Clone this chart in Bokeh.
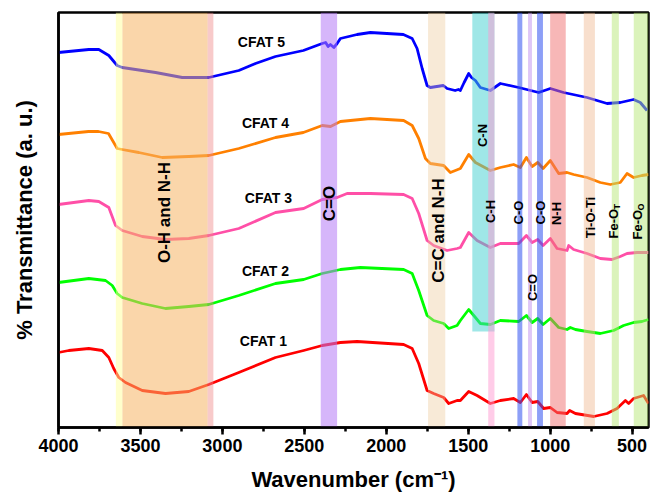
import numpy as np
from bokeh.plotting import figure
from bokeh.models import Range1d, SingleIntervalTicker, FixedTicker
from bokeh.core.properties import value
from bokeh.embed import file_html
from bokeh.resources import INLINE

# ---------------- data ----------------
wn_cfat5 = [4000, 3815, 3754, 3693, 3642, 3611, 3408, 3245, 3083, 2900, 2798, 2676, 2506, 2391, 2370, 2355,
            2341, 2320, 2300, 2280, 2178, 2097, 1896, 1842, 1812, 1781, 1751, 1731, 1652, 1629, 1580, 1560,
            1548, 1525, 1497, 1480, 1456, 1426, 1365, 1304, 1192, 1070, 999, 918, 775, 653, 572, 491, 450, 409]
t_cfat5 = [375, 378, 378, 372, 362, 360, 355, 350, 350, 357, 364, 371, 377, 384, 385, 381,
           383, 380, 384, 389, 393, 395, 393, 389, 379, 359, 342, 340, 342, 339, 337, 338,
           337, 345, 354, 350, 347, 340, 337, 344, 340, 335, 339, 335, 330, 324, 325, 328, 325, 317]

wn_cfat4 = [4000, 3817, 3756, 3695, 3663, 3642, 3611, 3510, 3367, 3205, 3083, 2900, 2676, 2506, 2391, 2340,
            2280, 2097, 1894, 1842, 1802, 1761, 1731, 1650, 1609, 1548, 1497, 1456, 1365, 1304, 1223, 1182,
            1145, 1110, 1076, 1043, 999, 948, 897, 857, 775, 694, 633, 572, 531, 491, 440, 400]
t_cfat4 = [293, 296, 296, 294, 285, 279, 278, 275, 270, 271, 272, 279, 290, 295, 302, 301,
           306, 309, 307, 302, 289, 269, 264, 262, 255, 259, 273, 265, 257, 260, 263, 260,
           270, 261, 265, 259, 267, 254, 255, 253, 250, 245, 243, 245, 254, 250, 252, 253]

wn_cfat3 = [4000, 3815, 3754, 3693, 3652, 3611, 3489, 3347, 3205, 3083, 2900, 2676, 2504, 2391, 2300, 2239,
            2097, 1894, 1842, 1802, 1751, 1711, 1629, 1568, 1548, 1497, 1446, 1365, 1304, 1192, 1145, 1110,
            1076, 1043, 999, 958, 897, 887, 857, 775, 694, 623, 572, 531, 470, 400]
t_cfat3 = [223, 227, 226, 220, 202, 197, 191, 188, 189, 192, 199, 215, 219, 228, 230, 234,
           234, 233, 229, 214, 187, 182, 177, 179, 180, 195, 187, 180, 184, 184, 192, 185,
           188, 182, 189, 179, 177, 182, 178, 174, 169, 168, 171, 174, 175, 175]

wn_cfat2 = [4000, 3815, 3713, 3672, 3642, 3611, 3489, 3347, 3205, 3083, 2900, 2676, 2504, 2391, 2280, 2158,
            1894, 1842, 1802, 1751, 1711, 1650, 1619, 1568, 1548, 1497, 1456, 1426, 1365, 1304, 1192, 1145,
            1110, 1076, 1043, 999, 948, 897, 877, 846, 775, 694, 613, 552, 491, 440, 400]
t_cfat2 = [145, 149, 147, 142, 134, 130, 124, 119, 121, 123, 132, 144, 148, 154, 158, 160,
           158, 154, 137, 112, 107, 104, 99, 102, 107, 118, 110, 104, 103, 107, 106, 112,
           105, 109, 103, 109, 100, 98, 100, 98, 96, 94, 97, 102, 105, 106, 108]

wn_cfat1 = [4000, 3937, 3815, 3733, 3693, 3663, 3632, 3591, 3489, 3347, 3205, 3083, 2900, 2676, 2504, 2391,
            2280, 2178, 1894, 1842, 1802, 1751, 1711, 1650, 1619, 1568, 1548, 1497, 1446, 1365, 1304, 1223,
            1182, 1145, 1110, 1076, 1040, 999, 958, 897, 881, 846, 734, 653, 592, 541, 521, 491, 430, 400]
t_cfat1 = [75, 77, 79, 77, 70, 59, 50, 45, 37, 34, 36, 43, 55, 70, 77, 82,
           85, 86, 83, 79, 64, 37, 34, 30, 24, 27, 27, 36, 32, 24, 27, 29,
           25, 33, 25, 26, 19, 20, 15, 14, 17, 14, 11, 14, 19, 27, 24, 29, 32, 24]

series_names = ["CFAT 1", "CFAT 2", "CFAT 3", "CFAT 4", "CFAT 5"]

# absorption bands (wavenumber ranges)
band_lo = [3610, 3090, 3055, 2300, 1640, 1340, 1340, 1170, 1111, 1044, 905, 727, 581, 400]
band_hi = [3650, 3610, 3090, 2400, 1745, 1475, 1378, 1200, 1135, 1080, 1000, 795, 624, 490]
band_bottom = [0, 0, 0, 0, 0, 96, 0, 0, 0, 0, 0, 0, 0, 0]
band_top = [415] * 14

# ---------------- styles ----------------
FONT = value("Liberation Sans")
curve_colors = ["#FF0000", "#00FF00", "#FF4FA7", "#FF8000", "#0000FF"]
band_colors = ["#FFFF99", "#F5B565", "#F08A8A", "#B57AF5", "#EDCB9A", "#40D0D0", "#FF99D1",
               "#3050F0", "#C090F0", "#3050F0", "#F07070", "#F0B890", "#B8E878", "#B8E878"]
band_alpha = [0.5, 0.55, 0.45, 0.55, 0.4, 0.5, 0.5, 0.55, 0.5, 0.55, 0.5, 0.45, 0.5, 0.5]

p = figure(width=654, height=496, output_backend="svg", toolbar_location=None,
           x_range=Range1d(4000, 400), y_range=Range1d(0, 415),
           min_border_left=58, min_border_right=6, min_border_top=12, min_border_bottom=69,
           background_fill_color="white", border_fill_color="white")
p.grid.visible = False
p.outline_line_color = "black"
p.outline_line_width = 2.5

# x axis
xa = p.xaxis[0]
xa.ticker = SingleIntervalTicker(interval=500, num_minor_ticks=2)
xa.axis_line_width = 2.5
xa.major_tick_line_width = 2.5
xa.minor_tick_line_width = 2.5
xa.major_tick_in = 0
xa.major_tick_out = 7
xa.minor_tick_in = 0
xa.minor_tick_out = 4
xa.major_label_text_font = "Liberation Sans"
xa.major_label_text_font_style = "bold"
xa.major_label_text_font_size = "18px"
xa.major_label_text_color = "black"
xa.major_label_standoff = 4
xa.axis_label = "Wavenumber (cm⁻¹)"
xa.axis_label_text_font = "Liberation Sans"
xa.axis_label_text_font_style = "bold"
xa.axis_label_text_font_size = "22px"
xa.axis_label_text_color = "black"
xa.axis_label_standoff = 12

# y axis
ya = p.yaxis[0]
ya.ticker = FixedTicker(ticks=[])
ya.axis_line_width = 2.5
ya.major_tick_out = 0
ya.major_tick_in = 0
ya.minor_tick_out = 0
ya.axis_label = "% Transmittance (a. u.)"
ya.axis_label_text_font = "Liberation Sans"
ya.axis_label_text_font_style = "bold"
ya.axis_label_text_font_size = "22px"
ya.axis_label_text_color = "black"
ya.axis_label_standoff = 22

# curves
all_wn = [wn_cfat1, wn_cfat2, wn_cfat3, wn_cfat4, wn_cfat5]
all_t = [t_cfat1, t_cfat2, t_cfat3, t_cfat4, t_cfat5]
for wn, t, c in zip(all_wn, all_t, curve_colors):
    p.line(wn, t, line_color=c, line_width=2.8, line_join="round")

# bands on top of the curves (semi-transparent)
p.quad(left=band_lo, right=band_hi, bottom=band_bottom, top=band_top,
       fill_color=band_colors, fill_alpha=band_alpha, line_color=None)

# series labels
lab_x = [2750, 2737, 2719, 2737, 2762]
lab_y = [87, 157, 230, 305, 386]
p.text(lab_x, lab_y, text=series_names, text_font=FONT, text_font_style="bold",
       text_font_size="14px", text_align="center", text_baseline="middle", text_color="black")

# big rotated band labels
big_text = ["O-H and N-H", "C=O", "C=C and N-H"]
big_x = [3353, 2347, 1684]
big_y = [215, 224, 197]
p.text(big_x, big_y, text=big_text, angle=np.pi / 2, text_font=FONT, text_font_style="bold",
       text_font_size="17px", text_align="center", text_baseline="middle", text_color="black")

# small rotated band labels
small_text = ["C-N", "C-H", "C-O", "C=O", "C-O", "N-H", "Ti-O-Ti"]
small_x = [1414, 1365, 1194, 1108, 1060, 962, 755]
small_y = [292, 216, 215, 140, 215, 214, 210]
p.text(small_x, small_y, text=small_text, angle=np.pi / 2, text_font=FONT, text_font_style="bold",
       text_font_size="13px", text_align="center", text_baseline="middle", text_color="black")

# Fe-O labels with subscripts
fe_x = [615, 468]
fe_y = [189, 188]
p.text(fe_x, fe_y, text=["Fe-O", "Fe-O"], angle=np.pi / 2, text_font=FONT, text_font_style="bold",
       text_font_size="13px", text_align="left", text_baseline="middle", text_color="black")
sub_x = [590, 443]
sub_y = [218, 217]
p.text(sub_x, sub_y, text=["T", "O"], angle=np.pi / 2, text_font=FONT, text_font_style="bold",
       text_font_size="9px", text_align="left", text_baseline="middle", text_color="black")

open("out.html", "w").write(file_html(p, INLINE))
